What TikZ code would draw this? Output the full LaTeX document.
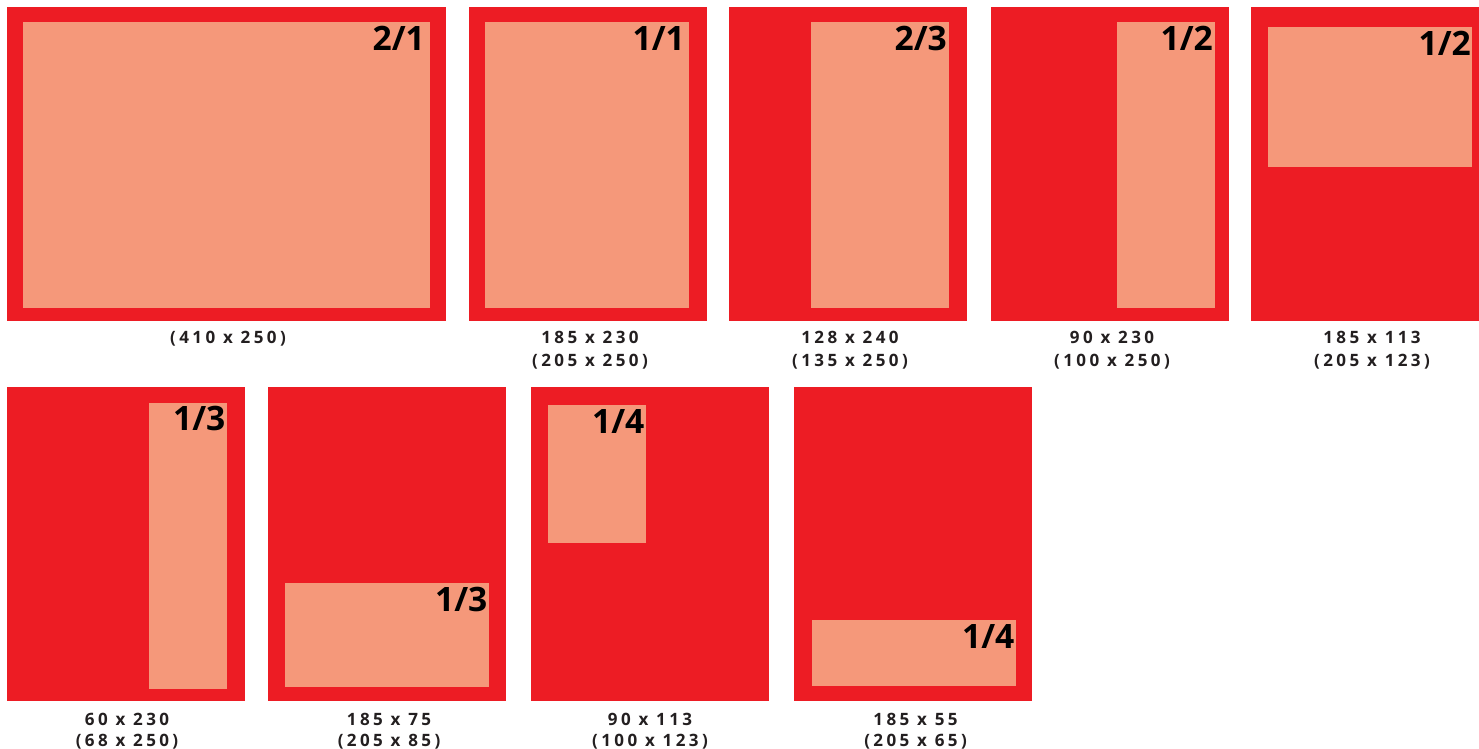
\documentclass[tikz,border=0pt]{standalone}
\usepackage{fontspec}
\setmainfont{Open Sans}
\newfontfamily\capfont[LetterSpace=20]{Open Sans}
\newfontfamily\ratfont{Open Sans}
\definecolor{redbg}{HTML}{ED1C24}
\definecolor{salmon}{HTML}{F5987A}
\definecolor{captxt}{HTML}{231F20}
\tikzset{
  outerbox/.style={fill=redbg,draw=none},
  innerbox/.style={fill=salmon,draw=none},
  ratio/.style={anchor=base east,inner sep=0pt,text=black,font=\ratfont\bfseries\fontsize{33.6}{34}\selectfont},
  caption/.style={anchor=base,inner sep=0pt,text=captxt,font=\capfont\bfseries\fontsize{17}{17}\selectfont}
}
\begin{document}
\begin{tikzpicture}[x=1pt,y=-1pt]
\useasboundingbox (0,0) rectangle (1479,748);
% row 1
\fill[outerbox] (7,7) rectangle (446,321);
\fill[innerbox] (23,22) rectangle (430,308);
\node[ratio] (r1) at (425,50) {2/1};
\fill[outerbox] (469,7) rectangle (707,321);
\fill[innerbox] (485,22) rectangle (689,308);
\node[ratio] (r2) at (685,50) {1/1};
\fill[outerbox] (729,7) rectangle (967,321);
\fill[innerbox] (811,22) rectangle (949,308);
\node[ratio] (r3) at (947,50) {2/3};
\fill[outerbox] (991,7) rectangle (1229,321);
\fill[innerbox] (1117,22) rectangle (1215,308);
\node[ratio] (r4) at (1213,50) {1/2};
\fill[outerbox] (1251,7) rectangle (1479,321);
\fill[innerbox] (1268,27) rectangle (1471.5,167);
\node[ratio] (r5) at (1471,55) {1/2};
% row 2
\fill[outerbox] (7,387) rectangle (245,701);
\fill[innerbox] (149,403) rectangle (227,689);
\node[ratio] (r6) at (225.5,430) {1/3};
\fill[outerbox] (268,387) rectangle (506,701);
\fill[innerbox] (285,583) rectangle (489,687);
\node[ratio] (r7) at (487.5,611) {1/3};
\fill[outerbox] (531,387) rectangle (769,701);
\fill[innerbox] (548,405) rectangle (646,543);
\node[ratio] (r8) at (644.5,433) {1/4};
\fill[outerbox] (794,387) rectangle (1032,701);
\fill[innerbox] (812,620) rectangle (1016,686);
\node[ratio] (r9) at (1014.5,648) {1/4};
% captions row 1
\node[caption] (c1) at (228,343) {(410 x 250)};
\node[caption] (c2a) at (590,343) {185 x 230};
\node[caption] (c2b) at (590,366) {(205 x 250)};
\node[caption] (c3a) at (850,343) {128 x 240};
\node[caption] (c3b) at (850,366) {(135 x 250)};
\node[caption] (c4a) at (1112,343) {90 x 230};
\node[caption] (c4b) at (1112,366) {(100 x 250)};
\node[caption] (c5a) at (1372,343) {185 x 113};
\node[caption] (c5b) at (1372,366) {(205 x 123)};
% captions row 2
\node[caption] (c6a) at (127,725.5) {60 x 230};
\node[caption] (c6b) at (127,746) {(68 x 250)};
\node[caption] (c7a) at (389,725.5) {185 x 75};
\node[caption] (c7b) at (389,746) {(205 x 85)};
\node[caption] (c8a) at (650,725.5) {90 x 113};
\node[caption] (c8b) at (650,746) {(100 x 123)};
\node[caption] (c9a) at (915.5,725.5) {185 x 55};
\node[caption] (c9b) at (915.5,746) {(205 x 65)};
\end{tikzpicture}
\end{document}
